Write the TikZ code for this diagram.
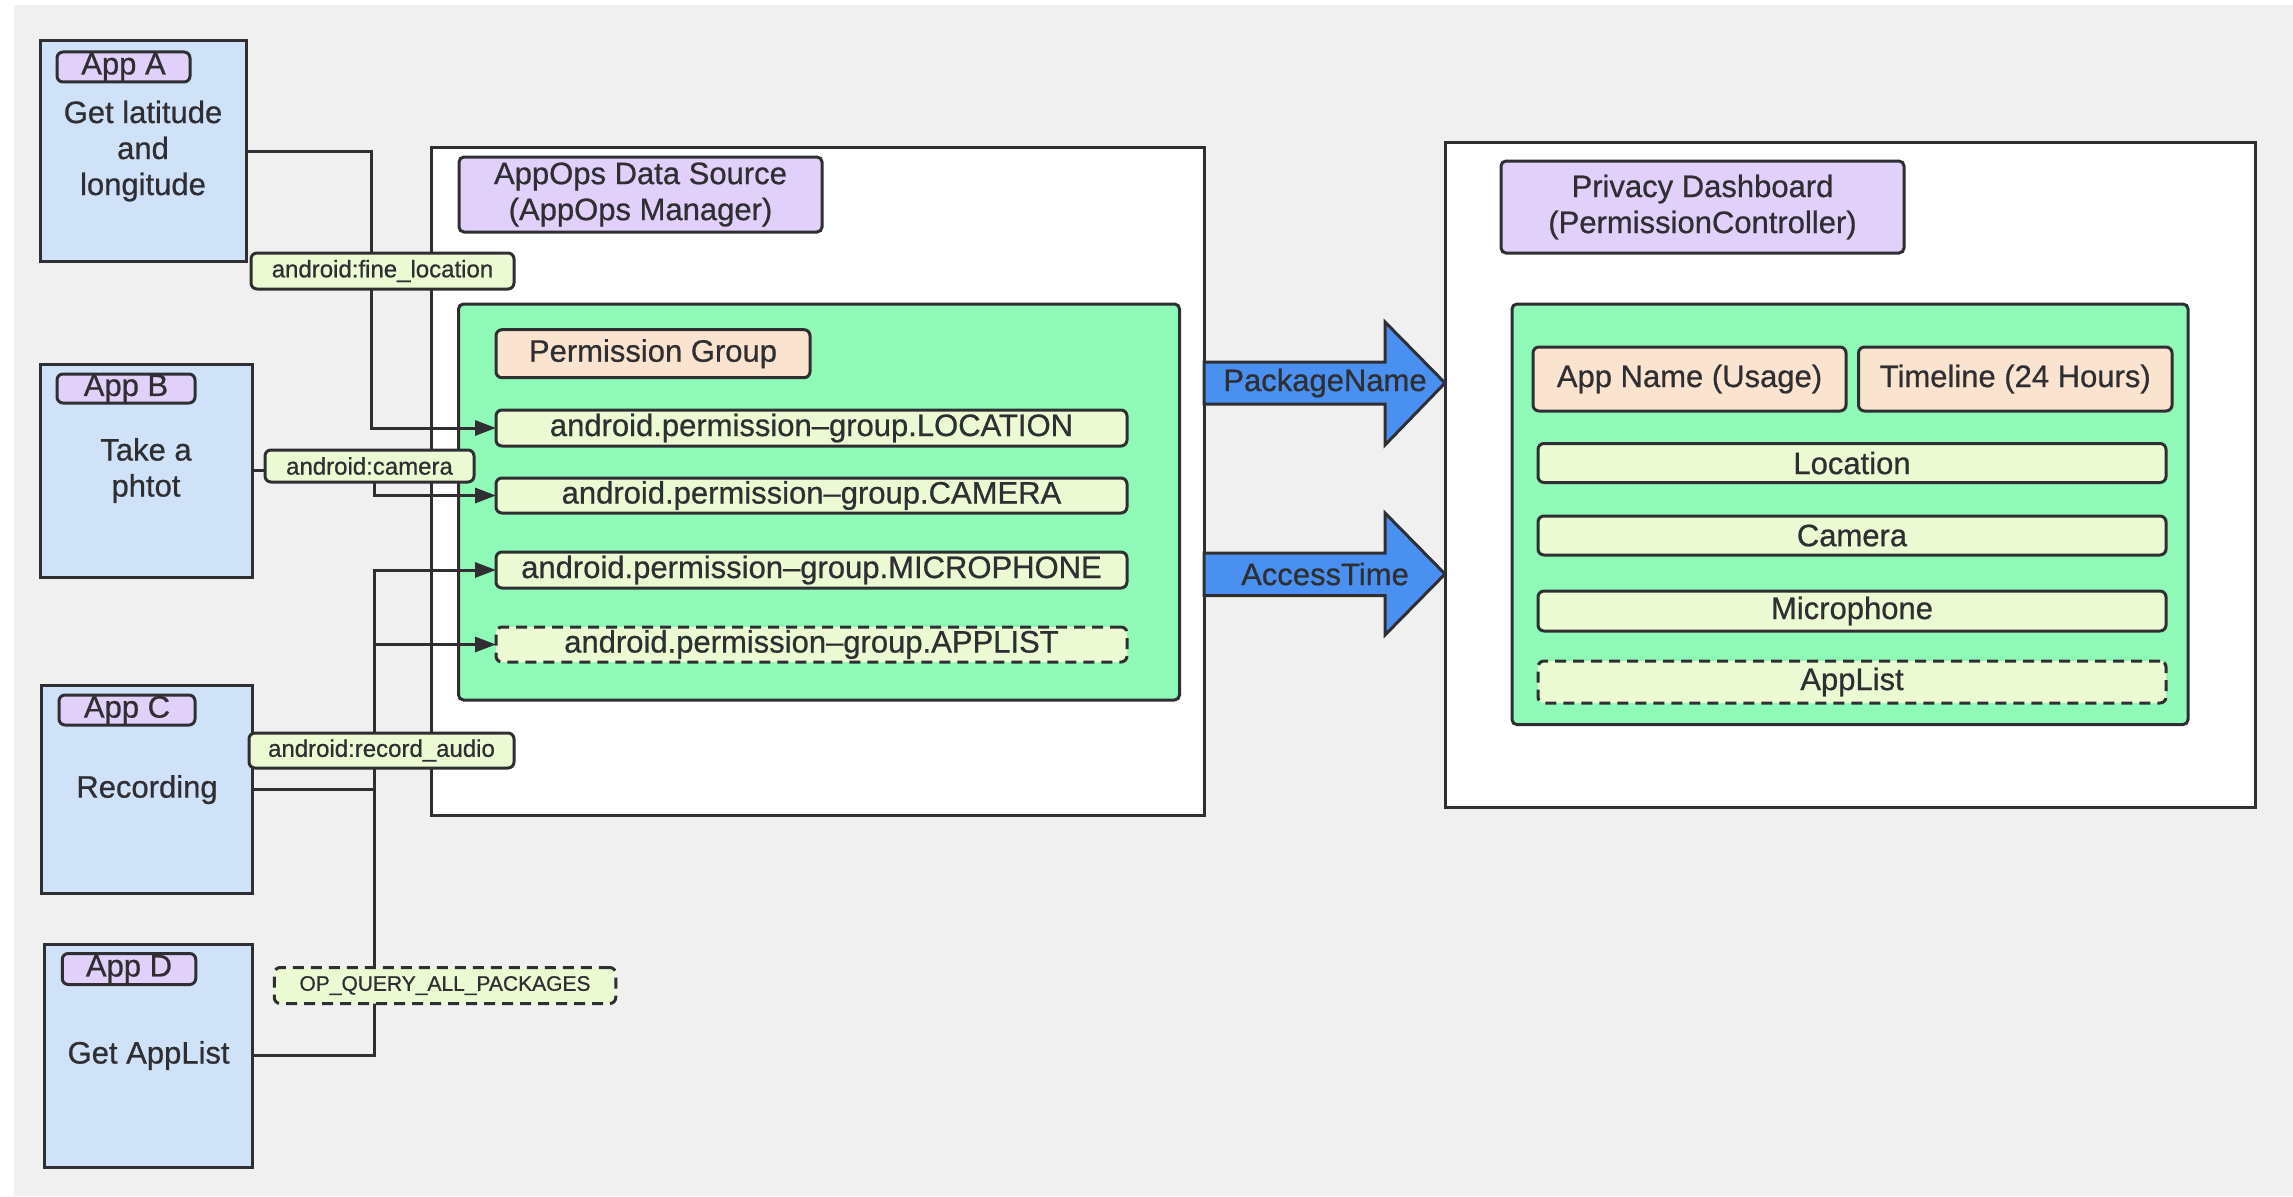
\documentclass[tikz,border=0pt]{standalone}
\usepackage{fontspec}
\setmainfont{Liberation Sans}[FakeBold=0.7]
\usetikzlibrary{arrows.meta}

\definecolor{ink}{HTML}{2F2F33}
\definecolor{bggray}{HTML}{F0F0F0}
\definecolor{appblue}{HTML}{CFE2F8}
\definecolor{lav}{HTML}{E1D0FA}
\definecolor{mint}{HTML}{8FFAB8}
\definecolor{peach}{HTML}{FBE4CF}
\definecolor{pale}{HTML}{EBFAD2}
\definecolor{flow}{HTML}{4A90F0}

\begin{document}
\begin{tikzpicture}[x=1pt,y=-1pt,
  every node/.style={inner sep=0pt, outer sep=0pt, text=ink, align=center,
    font=\fontsize{31}{36}\selectfont},
  appbox/.style={draw=ink, line width=3pt, fill=appblue},
  tag/.style={draw=ink, line width=3pt, fill=lav, rounded corners=6pt},
  panel/.style={draw=ink, line width=3pt, fill=white},
  group/.style={draw=ink, line width=3pt, fill=mint, rounded corners=5pt},
  head/.style={draw=ink, line width=3pt, fill=peach, rounded corners=6pt},
  item/.style={draw=ink, line width=3pt, fill=pale, rounded corners=6pt},
  optional/.style={dash pattern=on 11pt off 7pt},
  perm/.style={draw=ink, line width=3pt, fill=pale, rounded corners=6pt,
    font=\fontsize{24}{28}\selectfont},
  conn/.style={draw=ink, line width=3pt, -{Triangle[length=21pt,width=15pt]}},
  flowarrow/.style={draw=ink, line width=3pt, fill=flow, line join=miter}
]

% canvas
\useasboundingbox (0,0) rectangle (2293,1196);
\fill[white] (0,0) rectangle (2293,1196);
\fill[bggray] (14,5) rectangle (2293,1196);

% ---------- apps ----------
\node[appbox, minimum width=206pt, minimum height=220pt] (appA) at (143,151)
  {Get latitude\\and\\longitude};
\node[tag, minimum width=133pt, minimum height=30pt] (tagA) at (123.5,67) {App A};

\node[appbox, minimum width=212pt, minimum height=213pt] (appB) at (146,470.5)
  {Take a\\phtot};
\node[tag, minimum width=138pt, minimum height=29pt] (tagB) at (126,388.5) {App B};

\node[appbox, minimum width=211pt, minimum height=208pt] (appC) at (147,789.6)
  {Recording};
\node[tag, minimum width=136pt, minimum height=30pt] (tagC) at (127,710) {App C};

\node[appbox, minimum width=208pt, minimum height=223pt] (appD) at (148.6,1055.5)
  {Get AppList};
\node[tag, minimum width=133.5pt, minimum height=31pt] (tagD) at (129,969) {App D};

% ---------- AppOps data source ----------
\node[panel, minimum width=773pt, minimum height=668pt] (appops) at (817.5,481) {};
\node[tag, rounded corners=5pt, minimum width=363pt, minimum height=75pt] (opstitle)
  at (640.5,194.5) {AppOps Data Source\\(AppOps Manager)};
\node[group, minimum width=721pt, minimum height=396pt] (opsgroup) at (819,502) {};
\node[head, minimum width=314pt, minimum height=48pt] (pgroup) at (653,353.7)
  {Permission Group};
\node[item, minimum width=631pt, minimum height=36pt] (gloc) at (811.5,428)
  {android.permission–group.LOCATION};
\node[item, minimum width=631pt, minimum height=35pt] (gcam) at (811.5,495.5)
  {android.permission–group.CAMERA};
\node[item, minimum width=631pt, minimum height=36pt] (gmic) at (811.5,570)
  {android.permission–group.MICROPHONE};
\node[item, optional, minimum width=631pt, minimum height=35pt] (gapp) at (811.5,644.5)
  {android.permission–group.APPLIST};

% ---------- privacy dashboard ----------
\node[panel, minimum width=810pt, minimum height=665pt] (dash) at (1850,474.5) {};
\node[tag, rounded corners=5pt, minimum width=403pt, minimum height=92pt] (dashtitle)
  at (1702.5,207) {Privacy Dashboard\\(PermissionController)};
\node[group, minimum width=676pt, minimum height=420.6pt] (dashgroup) at (1850,514.3) {};
\node[head, minimum width=313pt, minimum height=64pt] (colname) at (1689.5,379)
  {App Name (Usage)};
\node[head, minimum width=313.5pt, minimum height=64pt] (coltime) at (2015.25,379)
  {Timeline (24 Hours)};
\node[item, minimum width=628pt, minimum height=39pt] (dloc) at (1852,463) {Location};
\node[item, minimum width=628pt, minimum height=39pt] (dcam) at (1852,535.5) {Camera};
\node[item, minimum width=628pt, minimum height=40pt] (dmic) at (1852,611) {Microphone};
\node[item, optional, minimum width=628pt, minimum height=42pt] (dapp) at (1852,682) {AppList};

% ---------- data flow between the two panels ----------
\draw[flowarrow] (appops.east |- 0,362) -- (1385,362) -- (1385,322)
  -- (dash.west |- 0,383) -- (1385,445) -- (1385,404) -- (appops.east |- 0,404) -- cycle;
\node (pkgname) at (1325,383) {PackageName};
\draw[flowarrow] (appops.east |- 0,553) -- (1385,553) -- (1385,513)
  -- (dash.west |- 0,574) -- (1385,635) -- (1385,595.5) -- (appops.east |- 0,595.5) -- cycle;
\node (acctime) at (1325,574) {AccessTime};

% ---------- permission requests ----------
\coordinate (busA) at (371,0);
\coordinate (bus) at (374,0);
\draw[conn] (appA.east) -| (busA |- gloc.west) -- (gloc.west);
\draw[conn] (appB.east) -| (bus |- gcam.west) -- (gcam.west);
\draw[conn] (appC.east) -| (bus |- gmic.west) -- (gmic.west);
\draw[conn] (appD.east) -| (bus |- gapp.west) -- (gapp.west);

\node[perm, minimum width=263pt, minimum height=36pt] (lfine) at (382.5,271)
  {android:fine\_location};
\node[perm, minimum width=209pt, minimum height=32pt] (lcam) at (369.5,466)
  {android:camera};
\node[perm, minimum width=265pt, minimum height=35pt] (lrec) at (381.5,750.5)
  {android:record\_audio};
\node[perm, optional, font=\fontsize{21}{25}\selectfont,
  minimum width=341.5pt, minimum height=36pt] (lquery) at (445,985.5)
  {OP\_QUERY\_ALL\_PACKAGES};

\end{tikzpicture}
\end{document}
